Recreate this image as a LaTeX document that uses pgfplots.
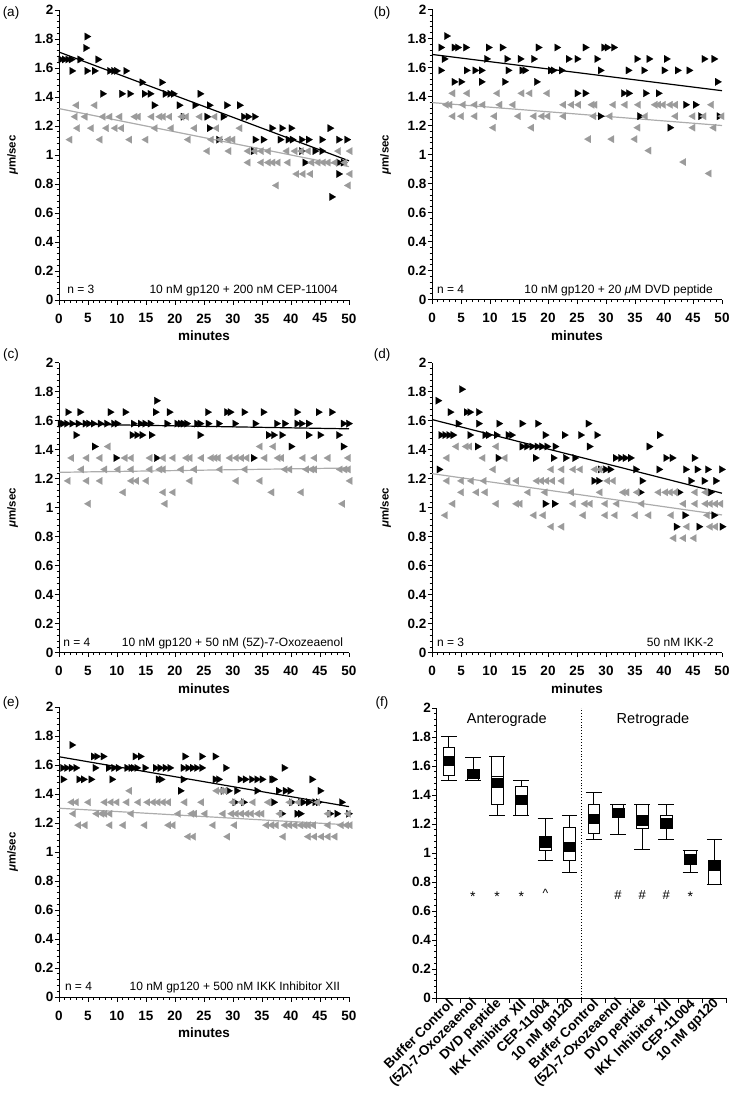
\documentclass[border=0pt]{standalone}
\usepackage{fontspec}
\setmainfont{Liberation Sans}
\usepackage{pgfplots}
\pgfplotsset{compat=1.18}
\usepgfplotslibrary{statistics}
\definecolor{mgray}{RGB}{155,155,155}
\definecolor{lgray}{RGB}{172,172,172}
\newcommand{\tfont}{\fontsize{13.5}{14}\selectfont\bfseries}
\pgfplotsset{
  base/.style={scale only axis, width=290pt, height=290pt, ymin=0, ymax=2,
    axis lines=left, axis line style={-, line width=1pt},
    tick align=outside, major tick length=4.5pt, minor tick length=2.5pt,
    tick style={black, line width=0.8pt},
    ytick={0,0.2,0.4,0.6,0.8,1,1.2,1.4,1.6,1.8,2}, minor y tick num=4,
    tick label style={font=\tfont}, /pgf/number format/assume math mode=true,
    yticklabel style={inner xsep=1pt},
    clip=false},
  panel/.style={base, xmin=0, xmax=50, xtick={0,5,...,50}, minor x tick num=4,
    xticklabel style={inner sep=1pt, yshift=-8pt},
    xlabel={minutes}, xlabel style={font=\fontsize{13.5}{14}\selectfont\bfseries, at={(axis description cs:0.5,-0.124)}, anchor=center},
    ylabel={\textit{μ}m/sec}, ylabel style={font=\fontsize{11.5}{12}\selectfont\bfseries, at={(axis description cs:-0.160,0.5)}, anchor=center}},
  bk/.style={only marks, mark=triangle*, mark size=4.3pt, black, mark options={rotate=-90, fill=black, draw=black, line width=0.1pt}},
  gr/.style={only marks, mark=triangle*, mark size=4.3pt, mgray, mark options={rotate=90, fill=mgray, draw=mgray, line width=0.1pt}},
  bl/.style={black, line width=1.2pt, no marks},
  gl/.style={lgray, line width=1.2pt, no marks},
  bx/.style={black, line width=0.8pt, solid},
}
\newcommand{\afont}{\fontsize{12}{12}\selectfont}
\begin{document}
\begin{tikzpicture}
\path[use as bounding box] (0pt,0pt) rectangle (733pt,-1107pt);
\node[font=\fontsize{13.5}{14}\selectfont] at (11pt,-13pt) {(a)};
\node[font=\fontsize{13.5}{14}\selectfont] at (382pt,-13pt) {(b)};
\node[font=\fontsize{13.5}{14}\selectfont] at (11pt,-355pt) {(c)};
\node[font=\fontsize{13.5}{14}\selectfont] at (382pt,-355pt) {(d)};
\node[font=\fontsize{13.5}{14}\selectfont] at (11pt,-703pt) {(e)};
\node[font=\fontsize{13.5}{14}\selectfont] at (382pt,-703pt) {(f)};

% ---------------- (a)
\begin{axis}[panel, at={(59pt,-300pt)}, anchor=south west]
\addplot[bk] coordinates {
(4.8,1.817)(4.6,1.738)
(0.3,1.659)(0.9,1.659)(1.5,1.659)(2.1,1.659)(3.6,1.659)(6.7,1.659)
(2.2,1.580)(4.8,1.580)(6.1,1.580)(8.7,1.580)(9.4,1.580)(9.9,1.580)(11.5,1.580)
(14.3,1.501)(17.7,1.501)
(7.5,1.422)(10.8,1.422)(12.2,1.422)(14.7,1.422)(15.7,1.422)(18.3,1.422)(19.1,1.422)(19.7,1.422)(24.3,1.422)
(16.4,1.343)(20.7,1.343)(23.4,1.343)(25.9,1.343)(28.9,1.343)(31.1,1.343)
(21.4,1.264)(25.5,1.264)(28.3,1.264)(31.8,1.264)(32.6,1.264)(33.7,1.264)
(25.9,1.185)(36.7,1.185)(38.4,1.185)(40,1.185)(46.7,1.185)
(27.5,1.106)(33.8,1.106)(35.2,1.106)(38.1,1.106)(39.5,1.106)(40.2,1.106)(41.8,1.106)(43,1.106)(45.3,1.106)(48.2,1.106)(49.6,1.106)
(33.5,1.027)(41.8,1.027)(44.1,1.027)(45.3,1.027)
(42.4,0.948)(48.2,0.948)(49,0.948)
(48.2,0.869)(47,0.711)};
\addplot[gr] coordinates {
(3.05,1.343)(6.2,1.343)
(2.8,1.264)(4.5,1.264)(7.6,1.264)(8.8,1.264)(10.5,1.264)(13.1,1.264)(13.7,1.264)(16,1.264)(17.4,1.264)(18,1.264)(19.1,1.264)(21.2,1.264)(22,1.264)(24.3,1.264)(26.9,1.264)
(3.2,1.185)(5.6,1.185)(8.2,1.185)(9.7,1.185)(10.8,1.185)(16.6,1.185)(19.4,1.185)(23.4,1.185)(27.2,1.185)(31.2,1.185)
(1.9,1.106)(7.1,1.106)(12.2,1.106)(15,1.106)(22.3,1.106)(26.3,1.106)(27.8,1.106)(29.2,1.106)(30,1.106)
(25.6,1.027)(29.3,1.027)(32.6,1.027)(33.8,1.027)(34.9,1.027)(36.1,1.027)(39.3,1.027)(40.7,1.027)(41.8,1.027)(43,1.027)(48.2,1.027)(50.2,1.027)
(32.6,0.948)(34.9,0.948)(36.1,0.948)(36.9,0.948)(37.8,0.948)(39.5,0.948)(43.6,0.948)(44.7,0.948)(45.6,0.948)(46.4,0.948)(47.6,0.948)(49.3,0.948)
(41,0.869)(42.1,0.869)(43.4,0.869)(50.2,0.869)
(37.5,0.790)(49.9,0.790)};
\addplot[gl] coordinates {(0,1.32)(50,0.92)};
\addplot[bl] coordinates {(0,1.71)(50,0.96)};
\node[font=\afont, anchor=base west, inner sep=0pt] at (axis description cs:0.028,0.021) {n = 3};
\node[font=\afont, anchor=base east, inner sep=0pt] at (axis description cs:0.962,0.021) {10 nM gp120 + 200 nM CEP-11004};
\end{axis}

% ---------------- (b)
\begin{axis}[panel, at={(432pt,-299.5pt)}, anchor=south west]
\addplot[bk] coordinates {
(2.5,1.817)
(1.5,1.738)(3.8,1.738)(4.4,1.738)(5.8,1.738)(9.7,1.738)(12.1,1.738)(18.3,1.738)(21.5,1.738)(26.4,1.738)(29.6,1.738)(30.2,1.738)(31.3,1.738)
(2.1,1.659)(9.4,1.659)(12.9,1.659)(15.2,1.659)(17.5,1.659)(23.5,1.659)(25,1.659)(28.4,1.659)(35.3,1.659)(37.4,1.659)(40.4,1.659)(46.9,1.659)(48.6,1.659)
(1.5,1.580)(5.9,1.580)(7.4,1.580)(8.5,1.580)(13.1,1.580)(15.5,1.580)(16,1.580)(20.4,1.580)(20.9,1.580)(22.3,1.580)(29,1.580)(33.8,1.580)(36.5,1.580)(40,1.580)(42.3,1.580)(44.3,1.580)
(3.8,1.501)(5,1.501)(8.5,1.501)(12.5,1.501)(18,1.501)(49.2,1.501)
(25,1.422)(26.4,1.422)(33,1.422)(33.9,1.422)(36.8,1.422)(39,1.422)
(43.7,1.343)(45.4,1.343)
(29,1.264)(35.8,1.264)(46.3,1.264)(49.5,1.264)
(41,1.185)};
\addplot[gr] coordinates {
(3.6,1.422)(6.1,1.422)(11.3,1.422)(15.5,1.422)(16.9,1.422)(19.9,1.422)
(2.5,1.343)(3.1,1.343)(5.4,1.343)(7.4,1.343)(8.8,1.343)(11.7,1.343)(14,1.343)(22.7,1.343)(24.1,1.343)(25.3,1.343)(27.6,1.343)(28.1,1.343)(31.3,1.343)(33.3,1.343)(35.6,1.343)(38.5,1.343)(39.1,1.343)(39.9,1.343)(41.1,1.343)(42,1.343)(48.2,1.343)
(3.6,1.264)(5.1,1.264)(7.4,1.264)(10.8,1.264)(14.9,1.264)(17.6,1.264)(19,1.264)(20,1.264)(22.7,1.264)(27.9,1.264)(30.7,1.264)(36.8,1.264)(42,1.264)(45,1.264)(46.9,1.264)(50,1.264)
(10.6,1.185)(17.2,1.185)(35.5,1.185)(45,1.185)(48.6,1.185)
(27,1.106)(31,1.106)(35,1.106)
(37.4,1.027)(43.4,0.948)(47.8,0.869)};
\addplot[gl] coordinates {(0,1.358)(50,1.20)};
\addplot[bl] coordinates {(0,1.69)(50,1.44)};
\node[font=\afont, anchor=base west, inner sep=0pt] at (axis description cs:0.017,0.021) {n = 4};
\node[font=\afont, anchor=base east, inner sep=0pt] at (axis description cs:0.969,0.021) {10 nM gp120 + 20 \textit{μ}M DVD peptide};
\end{axis}

% ---------------- (c)
\begin{axis}[panel, at={(59pt,-652.7pt)}, anchor=south west]
\addplot[bk] coordinates {
(16.8,1.738)
(1.5,1.659)(3.6,1.659)(8.8,1.659)(11.4,1.659)(16.6,1.659)(19,1.659)(25.6,1.659)(28.9,1.659)(29.5,1.659)(31.9,1.659)(35.2,1.659)(41,1.659)(44.7,1.659)(47,1.659)
(0.2,1.580)(0.6,1.580)(1.3,1.580)(2.2,1.580)(3.3,1.580)(4.5,1.580)(5.1,1.580)(5.9,1.580)(7.1,1.580)(8.2,1.580)(9.4,1.580)(10,1.580)(12.8,1.580)(14,1.580)(14.8,1.580)(15.7,1.580)(18.6,1.580)(20.3,1.580)(20.9,1.580)(21.4,1.580)(22,1.580)(23.7,1.580)(24.3,1.580)(25.7,1.580)(27.5,1.580)(30.3,1.580)(33.8,1.580)(37.5,1.580)(38.9,1.580)(41,1.580)(41.8,1.580)(43,1.580)(49,1.580)(49.9,1.580)
(2.9,1.501)(12.6,1.501)(13.4,1.501)(14.3,1.501)(15.9,1.501)(24.3,1.501)(36.1,1.501)(37,1.501)(38.4,1.501)(43,1.501)(45,1.501)(48.2,1.501)
(6.1,1.422)(40,1.422)(49,1.422)
(9.8,1.343)(16.8,1.343)(33.5,1.343)};
\addplot[gr] coordinates {
(8.5,1.422)(34.7,1.422)(37,1.422)
(2.2,1.343)(4.8,1.343)(7.1,1.343)(11.4,1.343)(12.5,1.343)(15.7,1.343)(18,1.343)(19.7,1.343)(22,1.343)(22.6,1.343)(24.6,1.343)(26.3,1.343)(26.9,1.343)(27.5,1.343)(29.5,1.343)(30.6,1.343)(31.5,1.343)(32.4,1.343)(35.5,1.343)(37.8,1.343)(38.4,1.343)(42.1,1.343)(44.1,1.343)(46.4,1.343)(49.9,1.343)
(3.9,1.264)(7.9,1.264)(10.2,1.264)(12.5,1.264)(15.7,1.264)(17.4,1.264)(18,1.264)(21.1,1.264)(23.4,1.264)(27.8,1.264)(32.1,1.264)(39,1.264)(39.8,1.264)(42.7,1.264)(43.6,1.264)(44.1,1.264)(48.5,1.264)(49.3,1.264)(49.9,1.264)
(1.6,1.185)(4.8,1.185)(7.1,1.185)(12.5,1.185)(13.4,1.185)(15.1,1.185)(22.6,1.185)(30.6,1.185)(34.7,1.185)(50.2,1.185)
(11.1,1.106)(18,1.106)(19.7,1.106)(36.7,1.106)(41.8,1.106)
(5.1,1.027)(18.3,1.027)(48.9,1.027)};
\addplot[gl] coordinates {(0,1.244)(50,1.274)};
\addplot[bl] coordinates {(0,1.578)(50,1.544)};
\node[font=\afont, anchor=base west, inner sep=0pt] at (axis description cs:0.014,0.021) {n = 4};
\node[font=\afont, anchor=base east, inner sep=0pt] at (axis description cs:0.98,0.021) {10 nM gp120 + 50 nM (5Z)-7-Oxozeaenol};
\end{axis}

% ---------------- (d)
\begin{axis}[panel, at={(432pt,-652.7pt)}, anchor=south west]
\addplot[bk] coordinates {
(5.1,1.817)(1.0,1.738)
(3.1,1.659)(5.9,1.659)(6.5,1.659)(8,1.659)
(4.5,1.580)(8,1.580)(11.5,1.580)(15.5,1.580)(18.2,1.580)(26.9,1.580)
(1.5,1.501)(2.2,1.501)(2.9,1.501)(3.6,1.501)(6.5,1.501)(9.1,1.501)(9.7,1.501)(11.1,1.501)(13.1,1.501)(13.7,1.501)(19.5,1.501)(22.8,1.501)(25.6,1.501)(28.4,1.501)(39.2,1.501)
(7.8,1.422)(15.5,1.422)(16.3,1.422)(17.2,1.422)(18.1,1.422)(18.9,1.422)(19.8,1.422)(21.2,1.422)(27.1,1.422)(37.4,1.422)
(11.4,1.343)(17.8,1.343)(20.9,1.343)(23,1.343)(24.6,1.343)(31.6,1.343)(32.5,1.343)(33.3,1.343)(34.2,1.343)(40.3,1.343)(41.4,1.343)(45.2,1.343)
(1.2,1.264)(29,1.264)(29.9,1.264)(30.7,1.264)(35.1,1.264)(39.1,1.264)(43.7,1.264)(45.7,1.264)(47.5,1.264)(49.9,1.264)
(27.9,1.185)(28.7,1.185)(36.2,1.185)(44.6,1.185)(46.9,1.185)(48.9,1.185)
(35.9,1.106)(42.6,1.106)(48,1.106)
(19.5,1.027)(21.1,1.027)
(43.6,0.948)(48.6,0.948)
(42.1,0.869)(46,0.869)(50,0.869)};
\addplot[gr] coordinates {
(4.2,1.422)(5.9,1.422)(6.5,1.422)(11.1,1.422)
(2.6,1.343)(8.8,1.343)(12.6,1.343)
(10.6,1.264)(20.6,1.264)(22.4,1.264)(24.4,1.264)(25.6,1.264)(28.1,1.264)(29,1.264)
(2.6,1.185)(5.1,1.185)(6.8,1.185)(9,1.185)(13.1,1.185)(14.6,1.185)(18.1,1.185)(18.9,1.185)(19.8,1.185)(20.8,1.185)(22.4,1.185)(30.3,1.185)(31.3,1.185)
(5.1,1.106)(7.7,1.106)(9.2,1.106)(16.6,1.106)(19.5,1.106)(24.1,1.106)(29,1.106)(33,1.106)(33.6,1.106)(35.4,1.106)(39.1,1.106)(40.3,1.106)(41.1,1.106)(42,1.106)(45.4,1.106)(47.2,1.106)
(3.6,1.027)(11.1,1.027)(14.6,1.027)(15.2,1.027)(24.4,1.027)(26.4,1.027)(27.3,1.027)(29.9,1.027)(31.9,1.027)(36.2,1.027)(43.4,1.027)(45.4,1.027)(47.2,1.027)(48,1.027)(48.9,1.027)(49.8,1.027)
(2.3,0.948)(17.6,0.948)(19.2,0.948)(26.1,0.948)(29.9,0.948)(31.6,0.948)(35.1,0.948)(37.4,0.948)(41.3,0.948)(47.5,0.948)
(20.6,0.869)(22.4,0.869)(44,0.869)(48,0.869)(48.9,0.869)
(41.7,0.790)(43.4,0.790)(45.2,0.790)};
\addplot[gl] coordinates {(0,1.235)(50,0.95)};
\addplot[bl] coordinates {(0,1.608)(50,1.10)};
\node[font=\afont, anchor=base west, inner sep=0pt] at (axis description cs:0.017,0.021) {n = 3};
\node[font=\afont, anchor=base east, inner sep=0pt] at (axis description cs:0.972,0.021) {50 nM IKK-2};
\end{axis}

% ---------------- (e)
\begin{axis}[panel, at={(59pt,-997pt)}, anchor=south west]
\addplot[bk] coordinates {
(2.2,1.738)
(5.9,1.659)(6.5,1.659)(7.6,1.659)(13.1,1.659)(14,1.659)(21.7,1.659)(24.6,1.659)(26.9,1.659)
(0.6,1.580)(1.3,1.580)(2.1,1.580)(2.9,1.580)(6.2,1.580)(8.5,1.580)(9.4,1.580)(10.2,1.580)(11.7,1.580)(12.4,1.580)(12.8,1.580)(13.4,1.580)(14.8,1.580)(16.6,1.580)(17.4,1.580)(18.3,1.580)(19.1,1.580)(21.4,1.580)(22.2,1.580)(23,1.580)(23.7,1.580)(24.6,1.580)(28.7,1.580)(38.8,1.580)
(0.7,1.501)(3.4,1.501)(4.2,1.501)(5.5,1.501)(9.1,1.501)(17.1,1.501)(17.6,1.501)(21.4,1.501)(26.9,1.501)(27.5,1.501)(31.2,1.501)(32.1,1.501)(33.2,1.501)(34.1,1.501)(35,1.501)(36.7,1.501)(37,1.501)(43.6,1.501)
(20.9,1.422)(28.3,1.422)(29.2,1.422)(30.6,1.422)(34.1,1.422)(37.8,1.422)(39,1.422)(39.8,1.422)(45,1.422)
(30.3,1.343)(31.8,1.343)(37,1.343)(40.1,1.343)(41.6,1.343)(42.1,1.343)(43,1.343)(44.1,1.343)(44.7,1.343)(48.7,1.343)
(38.4,1.264)(41,1.264)(41.6,1.264)(46.7,1.264)(47.9,1.264)(49.9,1.264)};
\addplot[gr] coordinates {
(12.2,1.422)(27.2,1.422)(28,1.422)(28.6,1.422)
(2.2,1.343)(3,1.343)(5.1,1.343)(7.9,1.343)(9,1.343)(10,1.343)(11.7,1.343)(13.7,1.343)(15.3,1.343)(16.3,1.343)(17.1,1.343)(18,1.343)(18.9,1.343)(21.7,1.343)(24.6,1.343)(30,1.343)(31.5,1.343)(33.5,1.343)(36.1,1.343)(39.8,1.343)(41.3,1.343)(44.6,1.343)
(2.5,1.264)(6.5,1.264)(7.4,1.264)(7.9,1.264)(8.8,1.264)(12.5,1.264)(20.6,1.264)(22.9,1.264)(23.4,1.264)(25.2,1.264)(28.3,1.264)(29.8,1.264)(30.6,1.264)(31.5,1.264)(32.4,1.264)(33.2,1.264)(34.3,1.264)(35,1.264)(38.1,1.264)(46.4,1.264)(49.9,1.264)
(3.4,1.185)(4.5,1.185)(8.8,1.185)(11.1,1.185)(14.8,1.185)(18.9,1.185)(19.7,1.185)(26.6,1.185)(30.3,1.185)(35.8,1.185)(36.7,1.185)(37.5,1.185)(39,1.185)(39.8,1.185)(40.7,1.185)(41.7,1.185)(42.4,1.185)(43,1.185)(43.9,1.185)(46.4,1.185)(48.7,1.185)(49.6,1.185)(50.2,1.185)
(22.3,1.106)(23.2,1.106)(29.1,1.106)(38.7,1.106)(43,1.106)(44.1,1.106)(45.3,1.106)(46.4,1.106)(47.6,1.106)};
\addplot[gl] coordinates {(0,1.302)(50,1.187)};
\addplot[bl] coordinates {(0,1.657)(50,1.313)};
\node[font=\afont, anchor=base west, inner sep=0pt] at (axis description cs:0.02,0.021) {n = 4};
\node[font=\afont, anchor=base east, inner sep=0pt] at (axis description cs:0.97,0.021) {10 nM gp120 + 500 nM IKK Inhibitor XII};
\end{axis}

% ---------------- (f)
\begin{axis}[base, at={(436.7pt,-998pt)}, anchor=south west, xmin=0.5, xmax=12.5,
  xtick={0.5,1.5,...,12.5}, xticklabels={},
  extra x ticks={1,2,...,12},
  extra x tick labels={Buffer Control,(5Z)-7-Oxozeaenol,DVD peptide,IKK Inhibitor XII,CEP-11004,10 nM gp120,Buffer Control,(5Z)-7-Oxozeaenol,DVD peptide,IKK Inhibitor XII,CEP-11004,10 nM gp120},
  extra x tick style={major tick length=0pt, xticklabel style={rotate=45, anchor=east, font=\fontsize{13.5}{14}\selectfont\bfseries, inner sep=1pt, yshift=-4pt}},
  boxplot/draw direction=y, boxplot/box extend=0.48, boxplot/whisker extend=0.65]
\addplot[only marks, mark=square*, mark size=4.5pt, black, mark options={xscale=1.29}] coordinates {
(1,1.637)(2,1.547)(3,1.487)(4,1.368)(5,1.074)(6,1.046)(7,1.234)(8,1.276)(9,1.23)(10,1.211)(11,0.959)(12,0.913)};
\addplot[bx, boxplot prepared={draw direction=y, draw position=1, lower whisker=1.499, lower quartile=1.533, median=1.637, upper quartile=1.729, upper whisker=1.805}] coordinates {};
\addplot[bx, boxplot prepared={draw direction=y, draw position=2, lower whisker=1.50, lower quartile=1.50, median=1.547, upper quartile=1.579, upper whisker=1.66}] coordinates {};
\addplot[bx, boxplot prepared={draw direction=y, draw position=3, lower whisker=1.26, lower quartile=1.338, median=1.53, upper quartile=1.667, upper whisker=1.667}] coordinates {};
\addplot[bx, boxplot prepared={draw direction=y, draw position=4, lower whisker=1.26, lower quartile=1.26, median=1.368, upper quartile=1.46, upper whisker=1.50}] coordinates {};
\addplot[bx, boxplot prepared={draw direction=y, draw position=5, lower whisker=0.947, lower quartile=1.016, median=1.105, upper quartile=1.115, upper whisker=1.241}] coordinates {};
\addplot[bx, boxplot prepared={draw direction=y, draw position=6, lower whisker=0.867, lower quartile=0.947, median=1.046, upper quartile=1.177, upper whisker=1.26}] coordinates {};
\addplot[bx, boxplot prepared={draw direction=y, draw position=7, lower whisker=1.097, lower quartile=1.138, median=1.234, upper quartile=1.338, upper whisker=1.418}] coordinates {};
\addplot[bx, boxplot prepared={draw direction=y, draw position=8, lower whisker=1.126, lower quartile=1.253, median=1.276, upper quartile=1.338, upper whisker=1.338}] coordinates {};
\addplot[bx, boxplot prepared={draw direction=y, draw position=9, lower whisker=1.023, lower quartile=1.172, median=1.19, upper quartile=1.338, upper whisker=1.338}] coordinates {};
\addplot[bx, boxplot prepared={draw direction=y, draw position=10, lower whisker=1.097, lower quartile=1.172, median=1.211, upper quartile=1.26, upper whisker=1.338}] coordinates {};
\addplot[bx, boxplot prepared={draw direction=y, draw position=11, lower whisker=0.867, lower quartile=0.92, median=0.959, upper quartile=1.016, upper whisker=1.016}] coordinates {};
\addplot[bx, boxplot prepared={draw direction=y, draw position=12, lower whisker=0.786, lower quartile=0.786, median=0.913, upper quartile=0.947, upper whisker=1.097}] coordinates {};
\addplot[black, dotted, line width=0.9pt] coordinates {(6.5,0)(6.5,2)};
\node[font=\fontsize{14.5}{15}\selectfont] at (axis cs:3.4,1.92) {Anterograde};
\node[font=\fontsize{14.5}{15}\selectfont] at (axis cs:9.45,1.92) {Retrograde};
\node[font=\fontsize{14}{14}\selectfont] at (axis cs:2,0.70) {*};
\node[font=\fontsize{14}{14}\selectfont] at (axis cs:3,0.70) {*};
\node[font=\fontsize{14}{14}\selectfont] at (axis cs:4,0.70) {*};
\node[font=\fontsize{14}{14}\selectfont] at (axis cs:11,0.70) {*};
\node[font=\fontsize{12}{12}\selectfont] at (axis cs:5,0.725) {\textasciicircum};
\node[font=\fontsize{13}{13}\selectfont] at (axis cs:8,0.713) {\#};
\node[font=\fontsize{13}{13}\selectfont] at (axis cs:9,0.713) {\#};
\node[font=\fontsize{13}{13}\selectfont] at (axis cs:10,0.713) {\#};
\end{axis}
\end{tikzpicture}
\end{document}
